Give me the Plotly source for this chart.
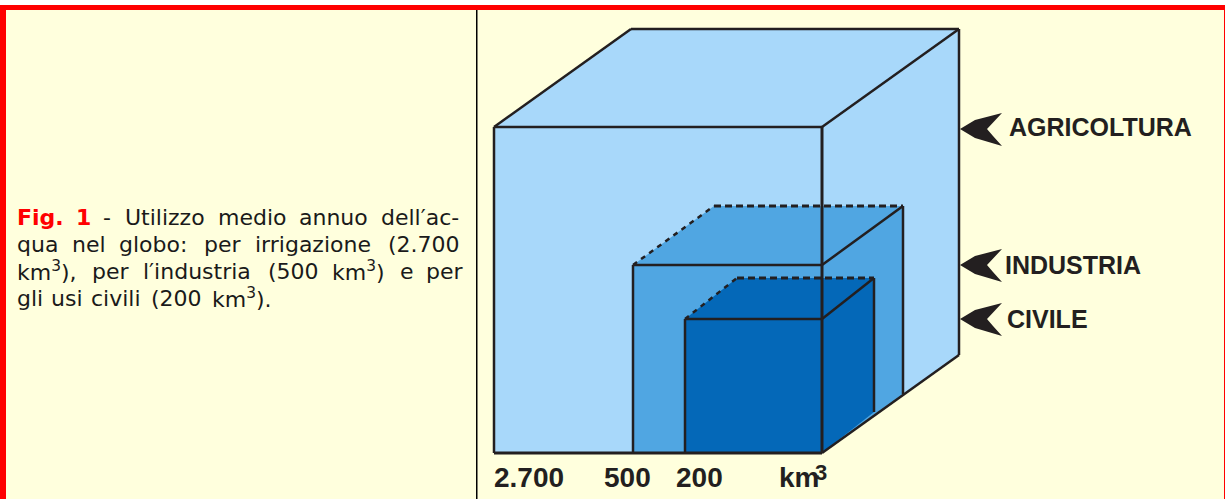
import plotly.graph_objects as go

# --- data -------------------------------------------------------------
CATEGORIES = ["AGRICOLTURA", "INDUSTRIA", "CIVILE"]
VOLUME_LABELS = ["2.700", "500", "200"]
FILL_COLOURS = ["#A8D8FA", "#50A6E2", "#0468B8"]
CUBE_LEFT = [494, 633, 685]
CUBE_TOP = [127, 265, 319]
CUBE_DX = [137, 81, 52]
CUBE_DY = [98, 59, 41]
FRONT_RIGHT = 822
FRONT_BOTTOM = 453
LABEL_X = [1007, 1003, 1005]
ARROW_Y = [129, 265, 319]
CAPTION_LINES = [
    (224, [("<b style='color:#FF0000'>Fig.</b>", 15), ("<b style='color:#FF0000'>1</b>", 74), ("-", 101),
           ("Utilizzo", 123), ("medio", 216), ("annuo", 297), ("dell\u2032ac-", 379)]),
    (251, [("qua", 15), ("nel", 70), ("globo:", 117), ("per", 202), ("irrigazione", 253), ("(2.700", 386)]),
    (278, [("km<sup>3</sup>),", 15), ("per", 90), ("l\u2032industria", 141), ("(500", 266),
           ("km<sup>3</sup>)", 330), ("e", 398), ("per", 424)]),
    (305, [("gli", 15), ("usi", 49), ("civili", 89), ("(200", 149), ("km<sup>3</sup>).", 210)]),
]
INK = "#231F20"
BG = "#FFFFDD"
RED = "#FF0000"
CAPTION_FONT = dict(family="DejaVu Sans", size=22, color="#1a1a1a")
BOLD = "Liberation Sans"

fig = go.Figure()


def poly(xs, ys, fill):
    fig.add_trace(go.Scatter(x=xs, y=ys, mode="lines", fill="toself", fillcolor=fill,
                             line=dict(width=0), hoverinfo="skip", showlegend=False))


def seg(xs, ys, width=2.5, dash="solid"):
    fig.add_trace(go.Scatter(x=xs, y=ys, mode="lines", line=dict(color=INK, width=width, dash=dash),
                             hoverinfo="skip", showlegend=False))


R, B = FRONT_RIGHT, FRONT_BOTTOM
for i, name in enumerate(CATEGORIES):
    L, T, dx, dy, col = CUBE_LEFT[i], CUBE_TOP[i], CUBE_DX[i], CUBE_DY[i], FILL_COLOURS[i]
    poly([L, R, R + dx, L + dx, L], [T, T, T - dy, T - dy, T], col)       # top face
    poly([R, R + dx, R + dx, R, R], [T, T - dy, B - dy, B, T], col)       # side face
    poly([L, R, R, L, L], [T, T, B, B, T], col)                           # front face
    solid_back = i == 0
    seg([L, L + dx], [T, T - dy], 2.5, "solid" if solid_back else "5px,5px")
    seg([L + dx, R + dx], [T - dy, T - dy], 3 if not solid_back else 2.5, "solid" if solid_back else "7px,4px")
    seg([R, R + dx], [T, T - dy])
    seg([R + dx, R + dx], [T - dy, B - dy])
    seg([L, R], [T, T])
    seg([L, L], [T, B])

seg([CUBE_LEFT[0], R], [B, B], 3)
seg([R, R + CUBE_DX[0]], [B, B - CUBE_DY[0]])
seg([R, R], [CUBE_TOP[0], B], 3)

# arrows
for y in ARROW_Y:
    poly([960, 975, 1002, 993, 987, 993, 1002, 975, 960],
         [y, y - 9, y - 16, y - 7, y, y + 7, y + 17, y + 9, y], INK)

ann = []
for name, x, y in zip(CATEGORIES, LABEL_X, CUBE_TOP):
    ann.append(dict(x=x, y=y, text=f"<b>{name}</b>", xanchor="left", yanchor="middle", showarrow=False,
                    font=dict(family=BOLD, size=25, color=INK)))
for txt, x in zip(VOLUME_LABELS, [492, 602, 674]):
    ann.append(dict(x=x, y=477, text=f"<b>{txt}</b>", xanchor="left", yanchor="middle", showarrow=False,
                    font=dict(family=BOLD, size=28, color=INK)))
ann.append(dict(x=777, y=477, text="<b>km</b>", xanchor="left", yanchor="middle", showarrow=False,
                font=dict(family=BOLD, size=28, color=INK)))
ann.append(dict(x=813, y=472, text="<b>3</b>", xanchor="left", yanchor="middle", showarrow=False,
                font=dict(family=BOLD, size=22, color=INK)))
for y, words in CAPTION_LINES:
    for w, x in words:
        ann.append(dict(x=x, y=y - 7, text=w, xanchor="left", yanchor="middle", showarrow=False,
                        font=CAPTION_FONT))

shapes = [
    dict(type="rect", x0=0, x1=1225, y0=0, y1=5, fillcolor="white", line_width=0, layer="above"),
    dict(type="rect", x0=0, x1=1225, y0=5, y1=10, fillcolor=RED, line_width=0, layer="above"),
    dict(type="rect", x0=0, x1=6, y0=5, y1=499, fillcolor=RED, line_width=0, layer="above"),
    dict(type="rect", x0=1224, x1=1225, y0=5, y1=499, fillcolor=RED, line_width=0, layer="above"),
    dict(type="rect", x0=476, x1=477.5, y0=10, y1=499, fillcolor="black", line_width=0, layer="above"),
]

fig.update_layout(
    width=1225, height=499, margin=dict(l=0, r=0, t=0, b=0),
    paper_bgcolor=BG, plot_bgcolor=BG, showlegend=False,
    xaxis=dict(range=[0, 1225], visible=False, fixedrange=True),
    yaxis=dict(range=[499, 0], visible=False, fixedrange=True),
    annotations=ann, shapes=shapes,
)
fig.write_html("out.html", config=dict(displayModeBar=False),
               post_script="document.body.style.margin='0';document.body.style.overflow='hidden';")
